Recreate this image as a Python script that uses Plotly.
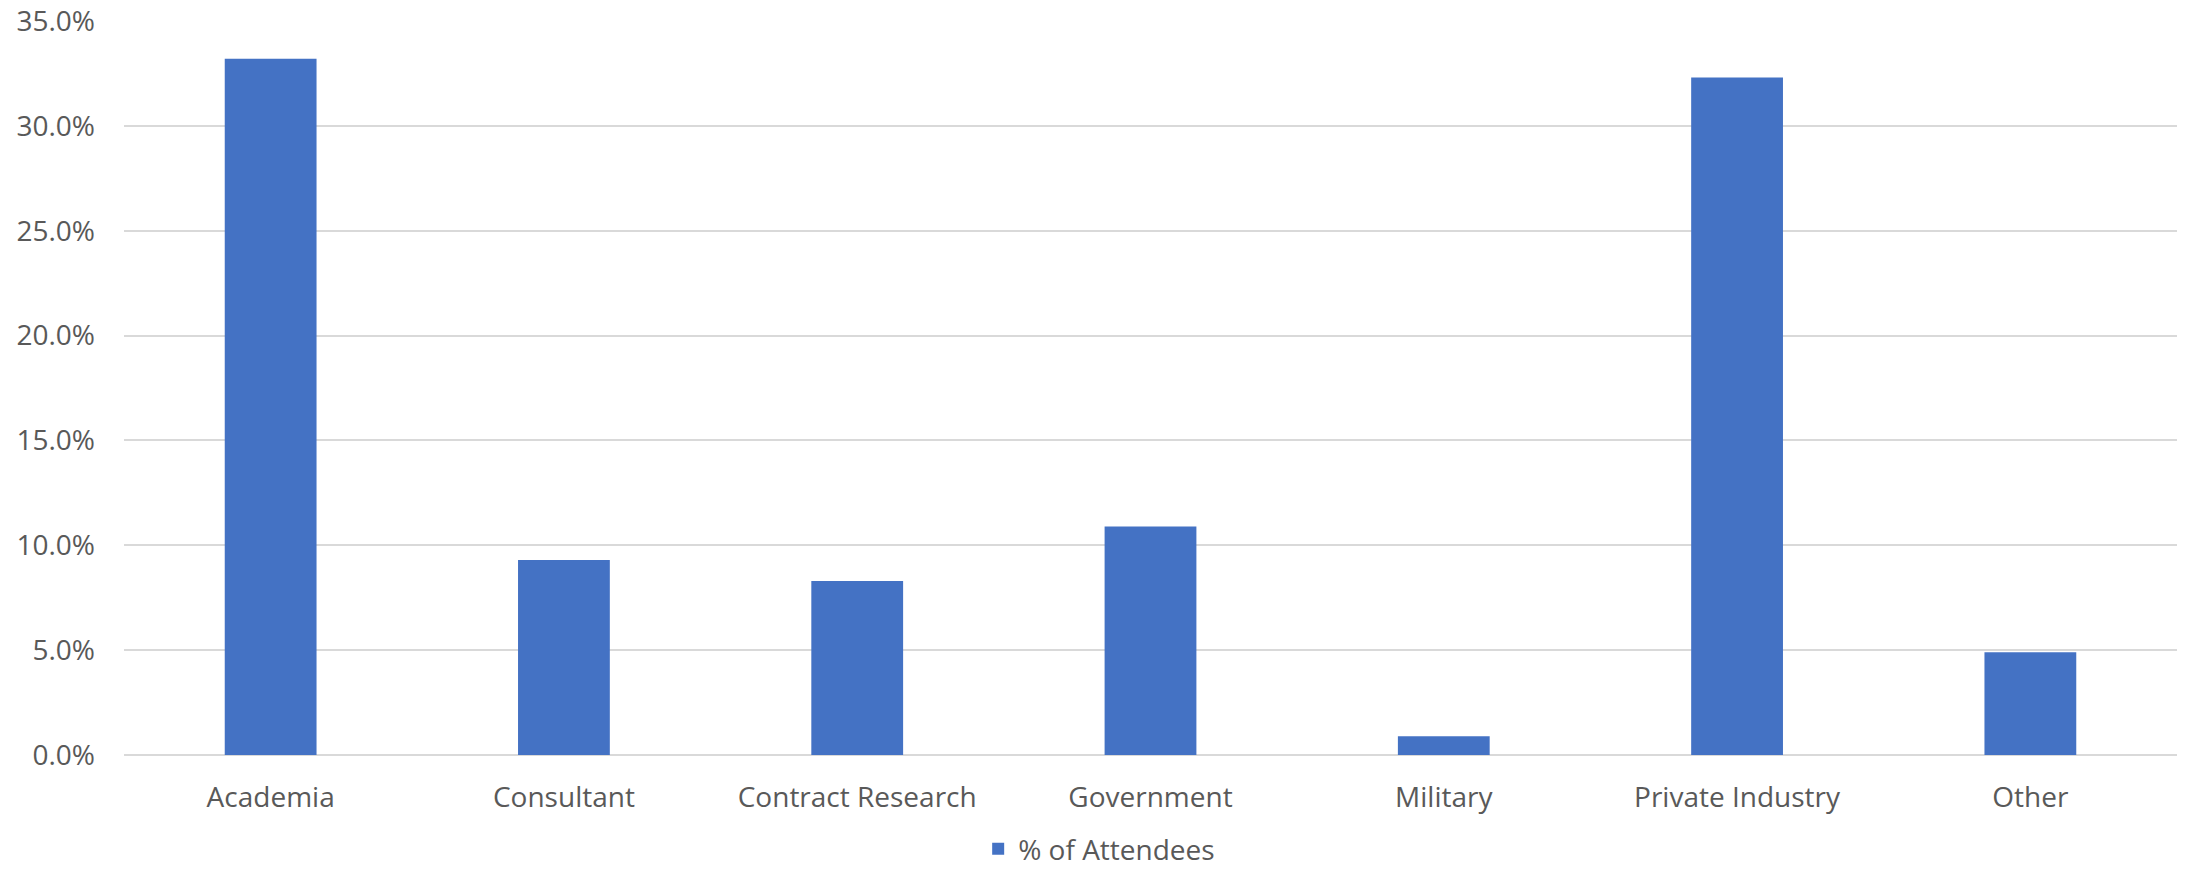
import plotly.graph_objects as go

categories = ["Academia", "Consultant", "Contract Research", "Government",
              "Military", "Private Industry", "Other"]
attendees_pct = [33.2, 9.3, 8.3, 10.9, 0.9, 32.3, 4.9]
series_name = "% of Attendees"
y_ticks = [0, 5, 10, 15, 20, 25, 30, 35]

fig = go.Figure()
fig.add_trace(go.Bar(
    x=categories, y=attendees_pct, name=series_name,
    marker=dict(color="#4472C4", line=dict(width=0)),
    showlegend=True,
))

font_family = "Open Sans, Liberation Sans, sans-serif"
fig.update_layout(
    width=2188, height=874,
    margin=dict(l=124, r=11, t=21, b=119, autoexpand=False),
    paper_bgcolor="white", plot_bgcolor="white",
    bargap=0.687,
    font=dict(family=font_family, size=28, color="#595959"),
    showlegend=True,
    legend=dict(orientation="h", x=0.475, xanchor="center", y=-0.128, yanchor="middle",
                font=dict(size=28, color="#595959"), itemwidth=30),
    xaxis=dict(showgrid=False, showline=False, ticks="", ticklabelstandoff=23,
               automargin=False, tickfont=dict(size=28, color="#595959")),
    yaxis=dict(range=[0, 35], tickvals=y_ticks, ticktext=[f"{v:.1f}%" for v in y_ticks],
               showgrid=True, gridcolor="#d9d9d9", gridwidth=2,
               zeroline=True, zerolinecolor="#d9d9d9", zerolinewidth=2,
               showline=False, ticks="", ticklabelstandoff=28, automargin=False,
               tickfont=dict(size=28, color="#595959")),
)

fig.write_html("out.html", config={"displayModeBar": False},
               post_script="document.body.style.margin='0';")
